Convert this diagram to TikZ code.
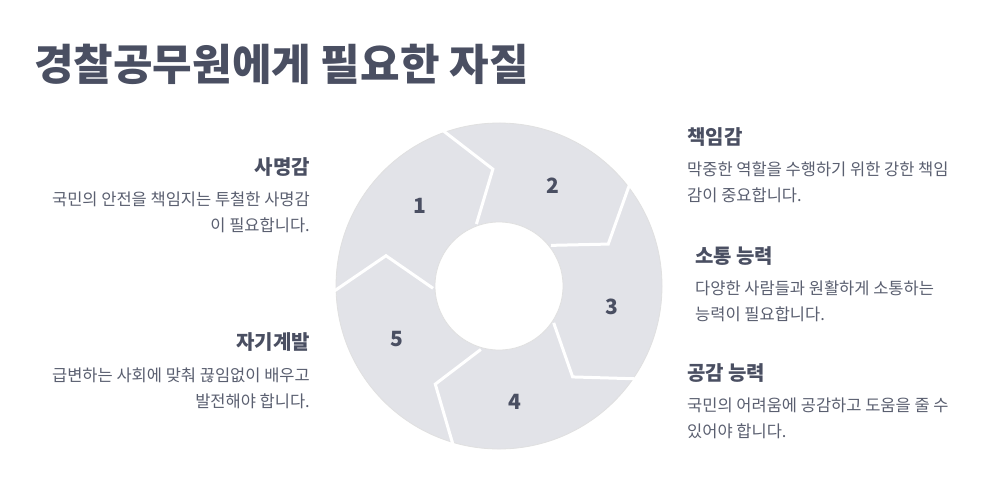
\documentclass[tikz,border=0pt]{standalone}
\usepackage{fontspec}
\usetikzlibrary{calc}
\setmainfont{Noto Sans CJK KR}
\definecolor{segfill}{HTML}{E2E3E8}
\definecolor{ink}{HTML}{4A4F62}
\definecolor{body}{HTML}{5A5F70}
\tikzset{
 num/.style={font=\fontsize{21}{24}\selectfont\bfseries,text=ink},
 head/.style={font=\fontsize{20}{22}\selectfont\bfseries,text=ink,inner sep=0pt},
 txt/.style={font=\fontsize{16.5}{26}\selectfont,text=body,inner sep=0pt},
}
\begin{document}
\begin{tikzpicture}[x=1pt,y=-1pt]
\path[use as bounding box,fill=white] (0,0) rectangle (995,490);
\node[anchor=west,font=\fontsize{43}{48}\selectfont\bfseries,text=ink,inner sep=0pt] (title) at (34,64) {경찰공무원에게 필요한 자질};
\coordinate (c) at (499,286);
\foreach \i in {0,...,4}{
 \pgfmathsetmacro{\a}{110-72*\i}
 \pgfmathsetmacro{\b}{\a-72}
 \fill[segfill] ($(c)+({cos(\a)*163},{-sin(\a)*163})$) arc[start angle=-\a,end angle=-\b,radius=163]
   -- ($(c)+({cos(\b-17)*117},{-sin(\b-17)*117})$)
   -- ($(c)+({cos(\b)*64},{-sin(\b)*64})$)
   arc[start angle=-\b,end angle=-\a,radius=64]
   -- ($(c)+({cos(\a-17)*117},{-sin(\a-17)*117})$) -- cycle;
}
\draw[draw=black!12,line width=0.8pt] (c) circle[radius=163];
\draw[draw=black!12,line width=0.8pt,fill=white] (c) circle[radius=64];
\foreach \i in {0,...,4}{
 \pgfmathsetmacro{\a}{110-72*\i}
 \draw[white,line width=3pt] ($(c)+({cos(\a)*66},{-sin(\a)*66})$) -- ($(c)+({cos(\a-17)*117},{-sin(\a-17)*117})$) -- ($(c)+({cos(\a)*166},{-sin(\a)*166})$);
}
\node[num] (n1) at (420,206) {1};
\node[num] (n2) at (553,186) {2};
\node[num] (n3) at (612,307) {3};
\node[num] (n4) at (515,402) {4};
\node[num] (n5) at (397,339) {5};
\node[head,anchor=east] (h1) at (310,167) {사명감};
\node[txt,anchor=north east,align=right] (t1) at (310,192) {국민의 안전을 책임지는 투철한 사명감\\이 필요합니다.};
\node[head,anchor=east] (h5) at (310,342) {자기계발};
\node[txt,anchor=north east,align=right] (t5) at (310,368) {급변하는 사회에 맞춰 끊임없이 배우고\\발전해야 합니다.};
\node[head,anchor=west] (h2) at (687,137) {책임감};
\node[txt,anchor=north west,align=left] (t2) at (687,162) {막중한 역할을 수행하기 위한 강한 책임\\감이 중요합니다.};
\node[head,anchor=west] (h3) at (695,256) {소통 능력};
\node[txt,anchor=north west,align=left] (t3) at (695,281) {다양한 사람들과 원활하게 소통하는\\능력이 필요합니다.};
\node[head,anchor=west] (h4) at (687,373) {공감 능력};
\node[txt,anchor=north west,align=left] (t4) at (687,398) {국민의 어려움에 공감하고 도움을 줄 수\\있어야 합니다.};
\end{tikzpicture}
\end{document}
